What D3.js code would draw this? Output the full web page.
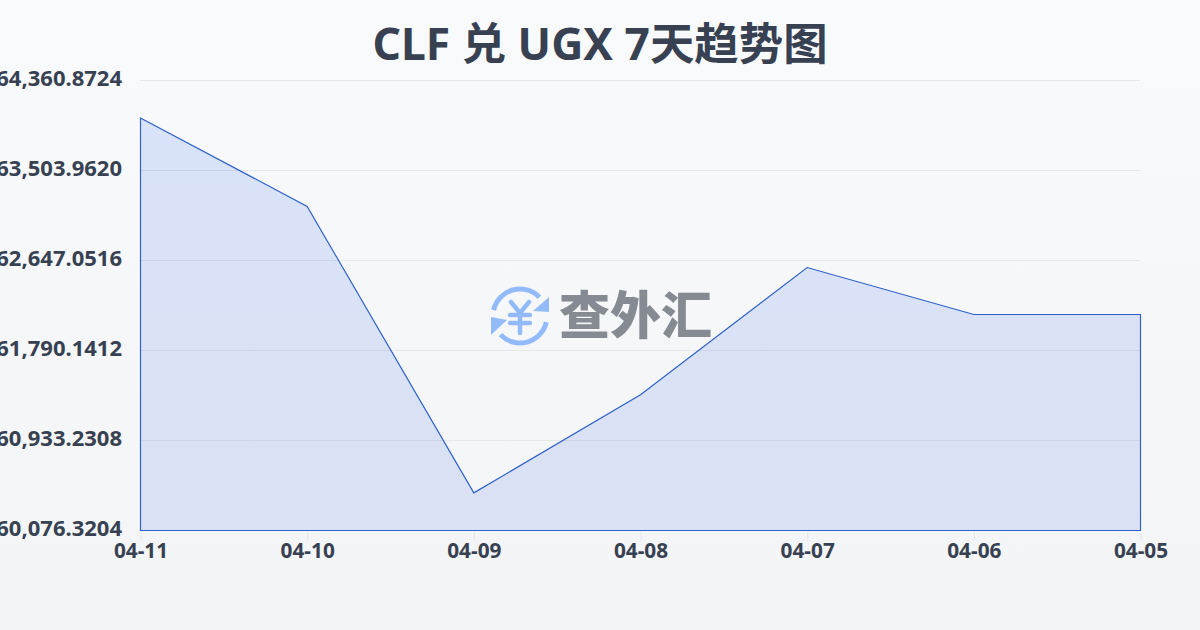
<!DOCTYPE html>
<html><head><meta charset="utf-8">
<script src="https://cdn.jsdelivr.net/npm/d3@7/dist/d3.min.js"></script>
<style>html,body{margin:0;padding:0;overflow:hidden;background:#f9fafb}svg{display:block}
text{font-family:"Noto Sans","Noto Sans CJK SC",sans-serif}</style></head>
<body><svg id="c" width="1200" height="630"></svg>
<script>
const titleText = "CLF 兑 UGX 7天趋势图";
const watermarkText = "查外汇";
const dates = ["04-11","04-10","04-09","04-08","04-07","04-06","04-05"];
const rates = [64000,63157,60430,61365,62575,62128,62128];
const yTicks = [60076.3204,60933.2308,61790.1412,62647.0516,63503.9620,64360.8724];

const svg = d3.select("#c");
const defs = svg.append("defs");
const bg = defs.append("linearGradient").attr("id","bg").attr("x1",0).attr("y1",0).attr("x2",0).attr("y2",1);
bg.append("stop").attr("offset",0).attr("stop-color","#f9fafc");
bg.append("stop").attr("offset",1).attr("stop-color","#f3f4f6");
const ag = defs.append("linearGradient").attr("id","ag").attr("x1",0).attr("y1",0).attr("x2",0).attr("y2",1);
ag.append("stop").attr("offset",0).attr("stop-color","#2563eb").attr("stop-opacity",0.15);
ag.append("stop").attr("offset",1).attr("stop-color","#1d4ed8").attr("stop-opacity",0.12);

svg.append("rect").attr("width",1200).attr("height",630).attr("fill","url(#bg)");

const x = d3.scalePoint().domain(dates).range([140.5,1140.5]);
const y = d3.scaleLinear().domain([yTicks[0],yTicks[yTicks.length-1]]).range([530,80]);

svg.append("text").attr("x",600).attr("y",60).attr("text-anchor","middle")
  .attr("font-size",44.4).attr("font-weight",700).attr("fill","#374151").text(titleText);

svg.append("g").selectAll("line").data(yTicks.slice(1)).join("line")
  .attr("x1",140).attr("x2",1140).attr("y1",d=>y(d)+.5).attr("y2",d=>y(d)+.5)
  .attr("stroke","#e5e7eb").attr("stroke-width",1);

svg.append("g").selectAll("text").data(yTicks).join("text")
  .attr("x",122).attr("y",d=>y(d)+6).attr("text-anchor","end")
  .attr("font-size",22).attr("font-weight",700).attr("fill","#374151")
  .text(d=>d3.format(",.4f")(d));

const xg = svg.append("g").attr("transform","translate(0,530.5)")
  .call(d3.axisBottom(x).tickSize(10).tickPadding(3));
xg.select(".domain").remove();
xg.selectAll("line").attr("stroke","#e5e7eb");
xg.selectAll("text").attr("font-size",20.8).attr("font-weight",700).attr("fill","#374151")
  .attr("font-family",'"Noto Sans","Noto Sans CJK SC",sans-serif');

const wm = svg.append("g");
const lg = wm.append("g").attr("transform","translate(520,316)")
  .attr("fill","none").attr("stroke","#93bbfb").attr("stroke-linecap","round");
const arc = d3.arc().innerRadius(27).outerRadius(27);
lg.append("path").attr("stroke-width",5).attr("d",arc({startAngle:-1.35,endAngle:0.8}));
lg.append("path").attr("stroke-width",5).attr("d",arc({startAngle:1.8,endAngle:3.95}));
lg.append("path").attr("fill","#93bbfb").attr("stroke","none").attr("d","M29,-19L29,-4L13,-5Z");
lg.append("path").attr("fill","#93bbfb").attr("stroke","none").attr("d","M-29,19L-29,1L-13,4Z");
lg.append("path").attr("stroke-width",4.5).attr("d","M-9,-14L0,-3L9,-14M-10,-1H10M-10,7H10M0,-3V17");
wm.append("text").attr("x",559).attr("y",334).attr("font-size",51).attr("font-weight",900)
  .attr("font-family",'"Noto Sans CJK SC",sans-serif')
  .attr("fill","#868b93").attr("textLength",153).text(watermarkText);

const area = d3.area().x((d,i)=>x(dates[i])).y0(530.5).y1(d=>y(d));
svg.append("path").datum(rates).attr("d",d=>area(d)).attr("fill","url(#ag)")
  .attr("stroke","#2b5fc9").attr("stroke-width",1.15);
</script></body></html>
